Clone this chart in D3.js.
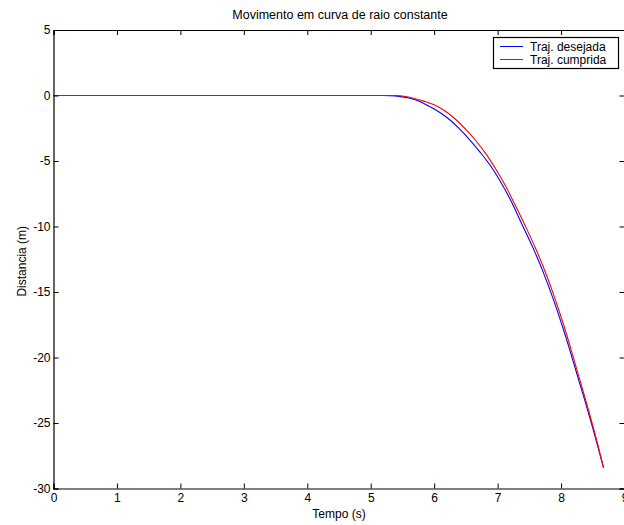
<!DOCTYPE html>
<html>
<head>
<meta charset="utf-8">
<script src="https://cdn.jsdelivr.net/npm/d3@7"></script>
<style>
html,body{margin:0;padding:0;background:#fff;}
svg{display:block;font-family:"Liberation Sans",Arial,sans-serif;}
</style>
</head>
<body>
<svg id="c" width="624" height="525"></svg>
<script>
const title = "Movimento em curva de raio constante";
const xLabel = "Tempo (s)";
const yLabel = "Distancia (m)";
const seriesNames = ["Traj. desejada", "Traj. cumprida"];
const xTicks = [0,1,2,3,4,5,6,7,8,9];
const yTicks = [5,0,-5,-10,-15,-20,-25,-30];

const tDes = [0, 5.2, 5.3, 5.45, 5.62, 5.78, 5.93, 6.09, 6.25, 6.4, 6.56, 6.72, 6.88, 7.03, 7.19, 7.4, 7.56, 7.72, 7.87, 8.0, 8.13, 8.24, 8.37, 8.5, 8.67];
const dDes = [0, 0, -0.02, -0.08, -0.21, -0.47, -0.85, -1.3, -1.87, -2.55, -3.38, -4.3, -5.31, -6.45, -7.85, -10.0, -11.65, -13.5, -15.45, -17.3, -19.3, -21.1, -23.2, -25.38, -28.43];

const tAct = [0, 5.41, 5.55, 5.67, 5.85, 6.04, 6.2, 6.35, 6.51, 6.67, 6.83, 6.98, 7.13, 7.29, 7.46, 7.61, 7.77, 7.9, 8.03, 8.14, 8.25, 8.38, 8.51, 8.67];
const dAct = [0, 0, -0.08, -0.21, -0.45, -0.8, -1.28, -1.87, -2.65, -3.53, -4.55, -5.69, -6.95, -8.5, -10.2, -11.8, -13.7, -15.45, -17.35, -19.1, -20.95, -23.12, -25.38, -28.43];

const colors = ["#0000ff", "#ff0000"];

const svg = d3.select("#c");
const L = 53.5, R = 624.5, T = 30, B = 488.5;
const x = d3.scaleLinear().domain([0, 9]).range([L, R]);
const y = d3.scaleLinear().domain([-30, 5]).range([B, T]);
const fs = 12;
const ff = '"Liberation Sans",Arial,sans-serif';

// lines
const line = d3.line().x(d => x(d[0])).y(d => y(d[1])).curve(d3.curveMonotoneX);
const series = [tDes.map((t,i)=>[t,dDes[i]]), tAct.map((t,i)=>[t,dAct[i]])];
series.forEach((s, i) => {
  svg.append("path").datum(s).attr("d", line)
    .attr("fill", "none").attr("stroke", colors[i]).attr("stroke-width", 1.1);
});

// axes
const tl = 5;
const gB = svg.append("g").attr("transform", `translate(0,${B})`)
  .call(d3.axisBottom(x).tickValues(xTicks).tickSize(-tl).tickFormat(d3.format("d")));
const gT = svg.append("g").attr("transform", `translate(0,${T})`)
  .call(d3.axisTop(x).tickValues(xTicks).tickSize(-tl).tickFormat(""));
const gL = svg.append("g").attr("transform", `translate(${L},0)`)
  .call(d3.axisLeft(y).tickValues(yTicks).tickSize(-tl).tickFormat(d3.format("d")));
const gR = svg.append("g").attr("transform", `translate(${R},0)`)
  .call(d3.axisRight(y).tickValues(yTicks).tickSize(-tl).tickFormat(""));
[gB,gT,gL,gR].forEach(g => {
  g.selectAll("path.domain").attr("stroke", "#000").attr("stroke-width", 1.2);
  g.selectAll(".tick line").attr("stroke", "#000");
  g.selectAll("text").attr("fill", "#000").style("font-size", fs + "px")
    .style("font-family", ff);
});
gB.selectAll("text").attr("dy", "0.71em").attr("y", 5);
gL.selectAll("text").attr("x", -3).text(d => d < 0 ? "-" + Math.abs(d) : d);

// title and labels
svg.append("text").attr("x", (L + R) / 2 + 1).attr("y", 19).attr("text-anchor", "middle")
  .style("font-size", "12.5px").text(title);
svg.append("text").attr("x", (L + R) / 2).attr("y", 518).attr("text-anchor", "middle")
  .style("font-size", fs + "px").text(xLabel);
svg.append("text").attr("transform", `translate(26,${(T + B) / 2 + 2}) rotate(-90)`)
  .attr("text-anchor", "middle").style("font-size", fs + "px").text(yLabel);

// legend
const lg = svg.append("g");
lg.append("rect").attr("x", 493.5).attr("y", 37.5).attr("width", 125).attr("height", 31)
  .attr("fill", "#fff").attr("stroke", "#000").attr("stroke-width", 1.2);
seriesNames.forEach((n, i) => {
  const yy = 46.5 + i * 13;
  lg.append("line").attr("x1", 500).attr("x2", 523).attr("y1", yy).attr("y2", yy)
    .attr("stroke", colors[i]).attr("stroke-width", 1);
  lg.append("text").attr("x", 530).attr("y", yy + 4.5).style("font-size", fs + "px").text(n);
});
</script>
</body>
</html>
